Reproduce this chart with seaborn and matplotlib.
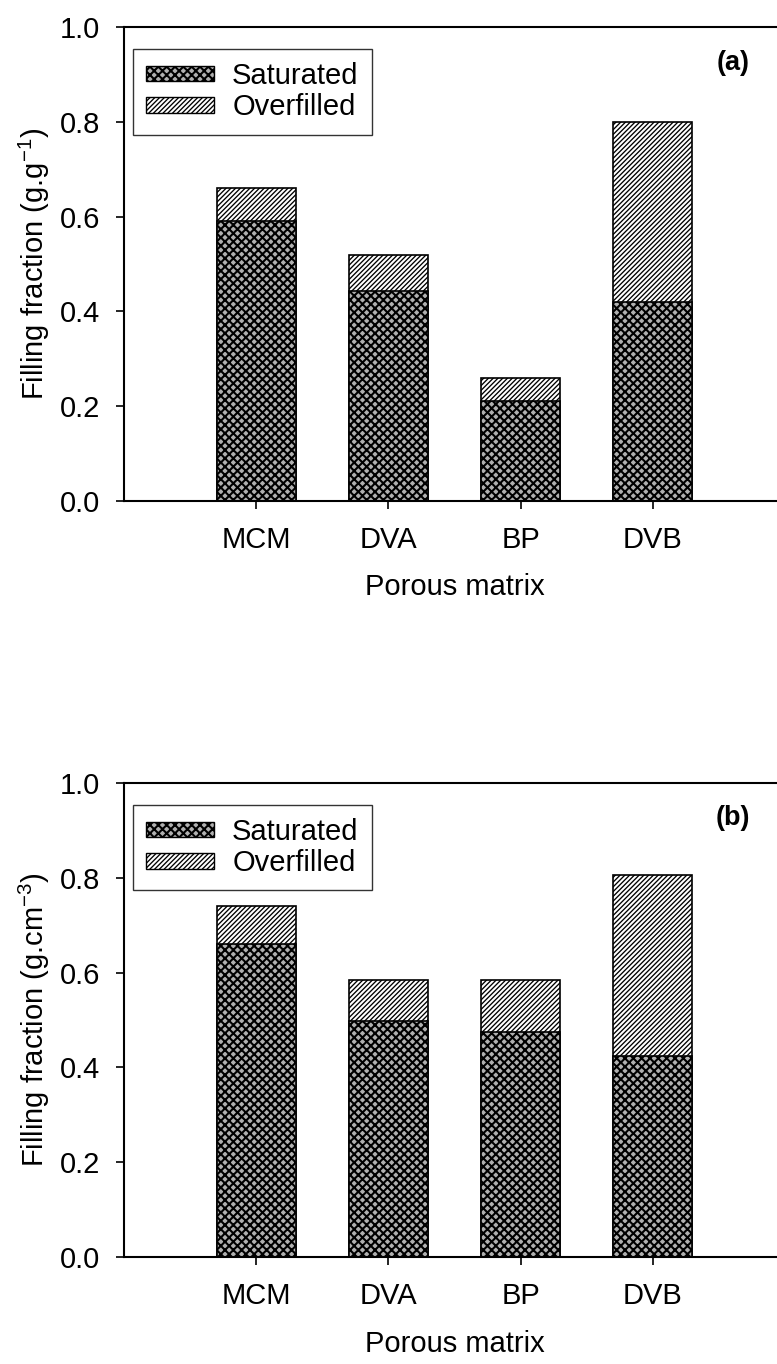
import numpy as np
import pandas as pd
import matplotlib
matplotlib.use('Agg')
import matplotlib.pyplot as plt
import seaborn as sns
from matplotlib.patches import Patch

# data
matrices = ['MCM', 'DVA', 'BP', 'DVB']
sat_a = [0.59, 0.443, 0.21, 0.42]
total_a = [0.66, 0.52, 0.26, 0.80]
sat_b = [0.66, 0.497, 0.475, 0.424]
total_b = [0.74, 0.585, 0.585, 0.806]

sns.set_style('ticks')
plt.rcParams['font.family'] = ['Liberation Sans', 'DejaVu Sans']
plt.rcParams['mathtext.fontset'] = 'custom'
plt.rcParams['mathtext.rm'] = 'Liberation Sans'
plt.rcParams['mathtext.it'] = 'Liberation Sans:italic'
plt.rcParams['hatch.linewidth'] = 1.2
plt.rcParams['hatch.color'] = 'black'
for key in ['text.color', 'axes.labelcolor', 'xtick.color', 'ytick.color']:
    plt.rcParams[key] = 'black'

SAT_HATCH = 'xxxx'
OVER_HATCH = '///////'
SAT_FACE = '#b0b0b0'
SAT_HLW = 1.5
OVER_HLW = 0.95
FS = 21


def set_hlw(patch, lw):
    # per-artist hatch width (matplotlib >= 3.10), else keep the rc default
    if hasattr(patch, 'set_hatch_linewidth'):
        patch.set_hatch_linewidth(lw)


fig = plt.figure(figsize=(7.77, 13.64), dpi=100)
ax_a = fig.add_axes([0.1596, 0.6327, 0.8507, 0.3475])
ax_b = fig.add_axes([0.1596, 0.0784, 0.8507, 0.3476])

panels = [(ax_a, sat_a, total_a, 'Filling fraction (g.g$^{-1}$)', '(a)'),
          (ax_b, sat_b, total_b, 'Filling fraction (g.cm$^{-3}$)', '(b)')]

for ax, sat, total, ylab, tag in panels:
    df = pd.DataFrame({'matrix': matrices, 'sat': sat, 'total': total})
    sns.barplot(data=df, x='matrix', y='total', ax=ax, color='white',
                edgecolor='black', linewidth=1.2, width=0.6, hatch=OVER_HATCH,
                saturation=1)
    n_over = len(ax.patches)
    sns.barplot(data=df, x='matrix', y='sat', ax=ax, color=SAT_FACE,
                edgecolor='black', linewidth=1.2, width=0.6, hatch=SAT_HATCH,
                saturation=1)
    for i, p in enumerate(ax.patches):
        set_hlw(p, OVER_HLW if i < n_over else SAT_HLW)
    ax.set_xlim(-1, 4)
    ax.set_ylim(0, 1.0)
    ax.set_yticks([0.0, 0.2, 0.4, 0.6, 0.8, 1.0])
    ax.set_yticklabels(['0.0', '0.2', '0.4', '0.6', '0.8', '1.0'])
    ax.tick_params(labelsize=FS, length=6, width=1.2, direction='out')
    ax.tick_params(axis='x', pad=12)
    ax.tick_params(axis='y', pad=11)
    ax.set_xlabel('Porous matrix', fontsize=FS, labelpad=14)
    ax.set_ylabel(ylab, fontsize=FS, labelpad=6)
    for side in ['left', 'top', 'bottom']:
        ax.spines[side].set_linewidth(1.5)
        ax.spines[side].set_color('black')
    ax.spines['right'].set_visible(False)
    ax.text(0.947, 0.925, tag, transform=ax.transAxes, ha='right', va='center',
            fontsize=19.5, fontweight='bold')
    h_sat = Patch(facecolor=SAT_FACE, edgecolor='black', hatch=SAT_HATCH, label='Saturated')
    h_over = Patch(facecolor='white', edgecolor='black', hatch=OVER_HATCH, label='Overfilled')
    leg = ax.legend(handles=[h_sat, h_over], loc='upper left', bbox_to_anchor=(0.0136, 0.954),
                    fontsize=FS, frameon=True, fancybox=False, edgecolor='black',
                    handlelength=2.33, handleheight=0.45, handletextpad=0.62,
                    borderpad=0.45, labelspacing=0.12, borderaxespad=0)
    leg.get_frame().set_linewidth(1.0)
    lp = leg.get_patches()
    set_hlw(lp[0], SAT_HLW)
    set_hlw(lp[1], OVER_HLW)

fig.savefig('out.png', dpi=100)
